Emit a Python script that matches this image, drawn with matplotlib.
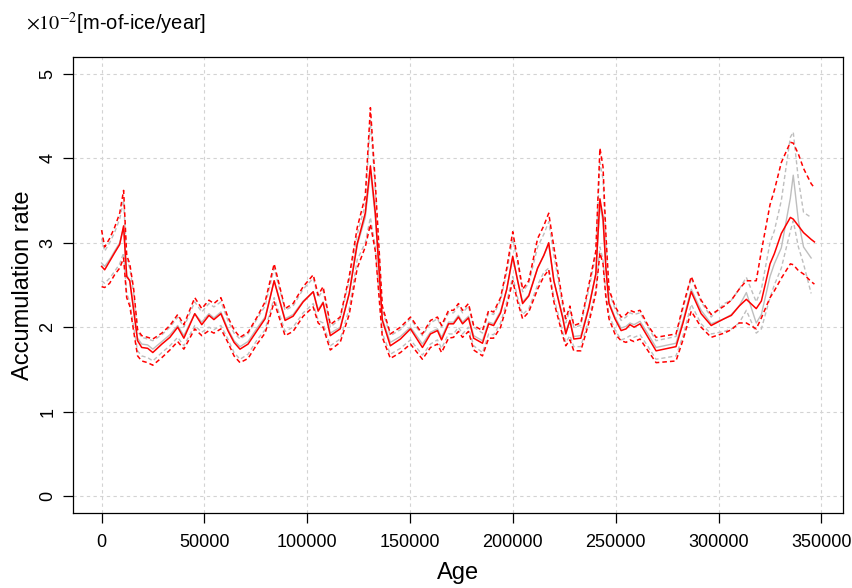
import numpy as np
import matplotlib
matplotlib.use('Agg')
import matplotlib.pyplot as plt

plt.rcParams['font.family'] = ['Liberation Sans', 'DejaVu Sans']
plt.rcParams['mathtext.fontset'] = 'stix'

# ages (years) and accumulation rate (x1e-2 m-of-ice/year)
age = [0, 1500, 3900, 6300, 8800, 10700, 12200, 13700, 15600, 17500,
       19500, 22400, 24900, 29300, 33200, 37000, 40000, 45300, 48700, 52200,
       54600, 58000, 61400, 64400, 67300, 71200, 75600, 79500, 83900, 89200,
       93100, 98000, 102900, 105300, 107700, 111200, 116000, 120400, 124300, 128200,
       130700, 133100, 136500, 140400, 145300, 150200, 156000, 159900, 163300, 165300,
       168700, 171100, 173500, 175500, 178400, 180900, 185200, 188200, 190600, 194000,
       197000, 199900, 202300, 204700, 207700, 212000, 215000, 217400, 219900, 224200,
       225700, 227700, 229600, 233000, 236900, 240300, 242300, 243800, 245200, 246700,
       249600, 252600, 255000, 256900, 258900, 261800, 265700, 269600, 279300, 282700,
       286700, 291500, 296400, 302700, 306200, 310000, 313500, 318300, 320800, 325000,
       327100, 330500, 334900, 336300, 338800, 341300, 345000, 346600]

red_mean = [2.72, 2.68, 2.78, 2.88, 2.98, 3.20, 2.60, 2.55, 2.20, 1.84,
            1.76, 1.75, 1.70, 1.80, 1.88, 2.00, 1.87, 2.16, 2.03, 2.14,
            2.09, 2.16, 1.96, 1.82, 1.74, 1.80, 1.96, 2.10, 2.55, 2.08,
            2.13, 2.30, 2.42, 2.19, 2.29, 1.90, 1.98, 2.40, 2.99, 3.35,
            3.91, 3.35, 2.08, 1.78, 1.86, 1.98, 1.76, 1.92, 1.96, 1.85,
            2.04, 2.04, 2.12, 2.04, 2.11, 1.87, 1.81, 2.04, 2.02, 2.17,
            2.45, 2.84, 2.55, 2.28, 2.37, 2.70, 2.85, 3.00, 2.55, 2.11,
            1.92, 2.08, 1.86, 1.87, 2.23, 2.63, 3.52, 3.30, 2.70, 2.28,
            2.10, 1.96, 1.98, 2.03, 2.00, 2.04, 1.88, 1.72, 1.77, 2.05,
            2.42, 2.16, 2.02, 2.10, 2.14, 2.25, 2.33, 2.22, 2.31, 2.75,
            2.87, 3.11, 3.30, 3.28, 3.20, 3.12, 3.04, 3.01]

red_upper = [3.15, 2.95, 3.05, 3.18, 3.35, 3.62, 2.85, 2.75, 2.45, 1.97,
             1.90, 1.88, 1.86, 1.93, 2.02, 2.15, 2.03, 2.35, 2.22, 2.32,
             2.28, 2.35, 2.12, 1.97, 1.88, 1.94, 2.12, 2.30, 2.75, 2.22,
             2.28, 2.48, 2.62, 2.38, 2.48, 2.03, 2.12, 2.60, 3.18, 3.55,
             4.60, 3.70, 2.25, 1.92, 2.00, 2.12, 1.92, 2.08, 2.12, 2.02,
             2.20, 2.20, 2.28, 2.20, 2.28, 2.02, 1.96, 2.20, 2.18, 2.35,
             2.70, 3.13, 2.80, 2.45, 2.55, 3.05, 3.20, 3.35, 2.95, 2.30,
             2.10, 2.25, 2.02, 2.05, 2.50, 2.90, 4.12, 3.90, 3.10, 2.45,
             2.25, 2.12, 2.15, 2.20, 2.18, 2.20, 2.02, 1.88, 1.92, 2.25,
             2.60, 2.32, 2.15, 2.25, 2.32, 2.45, 2.55, 2.55, 2.90, 3.45,
             3.62, 3.95, 4.19, 4.18, 4.05, 3.88, 3.70, 3.65]

red_lower = [2.48, 2.47, 2.52, 2.62, 2.70, 2.82, 2.35, 2.25, 1.95, 1.66,
             1.60, 1.58, 1.55, 1.64, 1.73, 1.83, 1.74, 1.98, 1.90, 1.96,
             1.93, 1.98, 1.82, 1.66, 1.58, 1.63, 1.80, 1.93, 2.30, 1.90,
             1.95, 2.13, 2.24, 2.05, 2.00, 1.73, 1.82, 2.15, 2.70, 2.95,
             3.22, 2.90, 1.88, 1.63, 1.70, 1.80, 1.62, 1.76, 1.80, 1.70,
             1.87, 1.88, 1.95, 1.88, 1.95, 1.73, 1.66, 1.87, 1.87, 2.00,
             2.25, 2.55, 2.30, 2.10, 2.18, 2.45, 2.60, 2.68, 2.30, 1.90,
             1.78, 1.85, 1.72, 1.72, 2.05, 2.40, 2.88, 2.75, 2.35, 2.10,
             1.92, 1.84, 1.82, 1.85, 1.83, 1.86, 1.72, 1.58, 1.60, 1.85,
             2.19, 2.00, 1.88, 1.93, 1.97, 2.05, 2.05, 1.98, 2.11, 2.35,
             2.43, 2.58, 2.75, 2.74, 2.67, 2.63, 2.54, 2.51]

grey_mean = [2.76, 2.72, 2.80, 2.90, 3.00, 3.18, 2.62, 2.55, 2.20, 1.87,
             1.80, 1.79, 1.74, 1.83, 1.91, 2.02, 1.90, 2.16, 2.06, 2.16,
             2.11, 2.18, 1.98, 1.84, 1.77, 1.83, 1.99, 2.12, 2.55, 2.10,
             2.15, 2.31, 2.42, 2.21, 2.30, 1.93, 2.00, 2.40, 2.97, 3.30,
             3.85, 3.30, 2.10, 1.82, 1.89, 2.00, 1.80, 1.94, 1.98, 1.88,
             2.06, 2.06, 2.14, 2.06, 2.13, 1.90, 1.84, 2.06, 2.04, 2.19,
             2.45, 2.82, 2.55, 2.30, 2.38, 2.70, 2.85, 2.98, 2.55, 2.13,
             1.95, 2.08, 1.89, 1.90, 2.25, 2.63, 3.45, 3.25, 2.70, 2.30,
             2.12, 1.99, 2.01, 2.05, 2.03, 2.07, 1.92, 1.76, 1.81, 2.08,
             2.45, 2.20, 2.04, 2.10, 2.15, 2.25, 2.41, 2.05, 2.15, 2.60,
             2.75, 2.94, 3.53, 3.80, 3.26, 2.95, 2.82, np.nan]

grey_upper = [3.05, 2.90, 3.00, 3.12, 3.28, 3.50, 2.80, 2.70, 2.40, 1.95,
              1.88, 1.86, 1.84, 1.91, 2.00, 2.12, 2.00, 2.30, 2.18, 2.28,
              2.24, 2.30, 2.08, 1.93, 1.86, 1.92, 2.10, 2.25, 2.70, 2.20,
              2.25, 2.45, 2.58, 2.35, 2.44, 2.00, 2.10, 2.55, 3.10, 3.45,
              4.45, 3.60, 2.20, 1.90, 1.97, 2.10, 1.90, 2.05, 2.10, 2.00,
              2.17, 2.17, 2.25, 2.17, 2.25, 2.00, 1.93, 2.17, 2.15, 2.32,
              2.65, 3.05, 2.75, 2.42, 2.52, 2.95, 3.10, 3.25, 2.85, 2.25,
              2.05, 2.20, 2.00, 2.02, 2.45, 2.85, 3.95, 3.75, 3.00, 2.42,
              2.22, 2.08, 2.12, 2.17, 2.15, 2.17, 2.00, 1.84, 1.89, 2.22,
              2.58, 2.30, 2.12, 2.28, 2.32, 2.45, 2.59, 2.30, 2.45, 3.00,
              3.14, 3.50, 4.25, 4.31, 3.75, 3.36, 3.30, np.nan]

grey_lower = [2.55, 2.52, 2.58, 2.66, 2.75, 2.88, 2.40, 2.30, 2.00, 1.72,
              1.66, 1.64, 1.60, 1.70, 1.78, 1.88, 1.78, 2.02, 1.94, 2.00,
              1.97, 2.02, 1.86, 1.70, 1.62, 1.68, 1.85, 1.97, 2.35, 1.95,
              2.00, 2.17, 2.28, 2.08, 2.05, 1.78, 1.86, 2.22, 2.80, 3.00,
              3.30, 2.95, 1.93, 1.68, 1.75, 1.85, 1.67, 1.80, 1.85, 1.75,
              1.92, 1.92, 2.00, 1.92, 2.00, 1.78, 1.70, 1.92, 1.91, 2.05,
              2.30, 2.60, 2.35, 2.15, 2.22, 2.50, 2.65, 2.70, 2.35, 1.95,
              1.82, 1.90, 1.77, 1.77, 2.10, 2.45, 2.95, 2.80, 2.40, 2.15,
              1.97, 1.85, 1.87, 1.90, 1.88, 1.91, 1.77, 1.62, 1.66, 1.90,
              2.27, 2.04, 1.92, 1.95, 1.98, 2.05, 2.20, 1.93, 1.98, 2.35,
              2.50, 2.70, 3.14, 3.26, 2.95, 2.75, 2.40, np.nan]

xticks = [0, 50000, 100000, 150000, 200000, 250000, 300000, 350000]
yticks = [0, 1, 2, 3, 4, 5]

dash = (0, (3, 2))
fig = plt.figure(figsize=(8.53, 5.88), dpi=100)
ax = fig.add_axes([0.0856, 0.1276, 0.9027, 0.7755])

# light dashed grid at the tick positions
for v in xticks:
    ax.axvline(v, color='#d3d3d3', lw=0.8, ls=(0, (3, 3)), zorder=0)
for v in yticks:
    ax.axhline(v, color='#d3d3d3', lw=0.8, ls=(0, (3, 3)), zorder=0)

grey = '#bebebe'
ax.plot(age, grey_mean, color=grey, lw=1.0)
ax.plot(age, grey_upper, color=grey, lw=1.0, ls=dash)
ax.plot(age, grey_lower, color=grey, lw=1.0, ls=dash)

ax.plot(age, red_mean, color='red', lw=1.1)
ax.plot(age, red_upper, color='red', lw=1.1, ls=dash)
ax.plot(age, red_lower, color='red', lw=1.1, ls=dash)

ax.set_xlim(-13900, 360500)
ax.set_ylim(-0.2, 5.2)
ax.set_xticks(xticks)
ax.set_xticklabels([str(v) for v in xticks])
ax.set_yticks(yticks)
ax.set_yticklabels([str(v) for v in yticks], rotation=90, va='center')
ax.tick_params(direction='out', length=7, width=0.9, labelsize=13, pad=5)
ax.tick_params(axis='x', pad=8)
for s in ax.spines.values():
    s.set_linewidth(0.9)

ax.set_xlabel('Age', fontsize=17, labelpad=8)
ax.set_ylabel('Accumulation rate', fontsize=17, labelpad=4)

fig.text(0.03, 0.96, r'$\times10^{-2}$[m-of-ice/year]', fontsize=14.5, va='center', ha='left')

fig.savefig('out.png', dpi=100)
